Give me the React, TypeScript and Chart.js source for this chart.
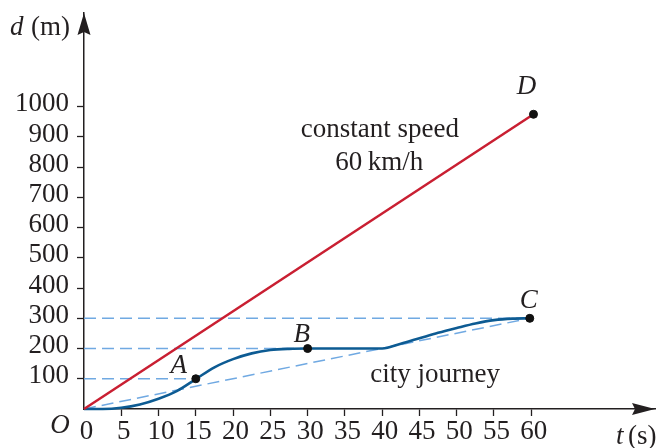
import React, { useEffect, useRef } from "react";
import { Chart, registerables } from "chart.js";

Chart.register(...registerables);

// ---- data ----
const xTickValues = [0, 5, 10, 15, 20, 25, 30, 35, 40, 45, 50, 55, 60];
const yTickValues = [100, 200, 300, 400, 500, 600, 700, 800, 900, 1000];

const cityT = [0, 2.5, 5, 7.5, 10, 12.5, 15, 17.5, 20, 22.5, 25, 27.5, 30, 35, 40, 42.5, 45, 47.5, 50, 52.5, 55, 57.5, 59.8];
const cityD = [0, 0, 4, 15, 34, 60, 99, 138, 165, 184, 195, 199, 200, 200, 200, 216, 234, 252, 268, 283, 294, 299, 300];

const speedT = [0, 60.3];
const speedD = [0, 975];

const pointNames = ["A", "B", "C", "D"];
const pointT = [15, 30, 59.8, 60.3];
const pointD = [100, 200, 300, 975];

const guideLevels = [100, 200, 300];
const guideEnds = [15, 30, 59.8];

const averageT = [0, 59.8];
const averageD = [0, 300];

const X_MAX = 76.6;
const Y_MAX = 1310;

const INK = "#231f20";
const RED = "#c91f32";
const BLUE = "#0d5b93";
const LIGHT = "#70a9e2";
const SERIF = "'Liberation Serif', 'Times New Roman', serif";
const FS = 27;

const pointLabelOffsets: Record<string, [number, number]> = {
  A: [-17, -6],
  B: [-6, -7],
  C: [-1, -10],
  D: [-7, -20],
};

const annotationPlugin = {
  id: "annotations",
  afterDraw(chart: any) {
    const ctx = chart.ctx;
    const xs = chart.scales.x;
    const ys = chart.scales.y;
    const ca = chart.chartArea;
    ctx.save();
    // arrows
    ctx.fillStyle = INK;
    const ax = ca.left;
    const ay = ca.top;
    ctx.beginPath();
    ctx.moveTo(ax, ay);
    ctx.lineTo(ax + 6.5, ay + 22);
    ctx.lineTo(ax, ay + 19);
    ctx.lineTo(ax - 6.5, ay + 22);
    ctx.closePath();
    ctx.fill();
    const bx = ca.right;
    const by = ca.bottom;
    ctx.beginPath();
    ctx.moveTo(bx, by);
    ctx.lineTo(bx - 23, by - 6);
    ctx.lineTo(bx - 20, by);
    ctx.lineTo(bx - 23, by + 6);
    ctx.closePath();
    ctx.fill();

    // axis titles
    ctx.fillStyle = INK;
    ctx.textBaseline = "alphabetic";
    ctx.textAlign = "left";
    ctx.font = `italic ${FS}px ${SERIF}`;
    ctx.fillText("d", 10, 35);
    ctx.font = `${FS}px ${SERIF}`;
    ctx.fillText("(m)", 31, 35);
    ctx.font = `italic ${FS}px ${SERIF}`;
    ctx.fillText("t", 616, 444);
    ctx.font = `${FS}px ${SERIF}`;
    ctx.fillText("(s)", 628, 444);
    ctx.font = `italic ${FS}px ${SERIF}`;
    ctx.textAlign = "center";
    ctx.fillText("O", 60, 433);

    // point letters
    pointNames.forEach((n, i) => {
      const px = xs.getPixelForValue(pointT[i]);
      const py = ys.getPixelForValue(pointD[i]);
      const off = pointLabelOffsets[n];
      ctx.font = `italic ${FS}px ${SERIF}`;
      ctx.textAlign = "center";
      ctx.fillText(n, px + off[0], py + off[1]);
    });

    // text notes
    ctx.font = `${FS}px ${SERIF}`;
    ctx.textAlign = "center";
    ctx.fillText("constant speed", xs.getPixelForValue(39.7), ys.getPixelForValue(900));
    ctx.fillText("60\u2009km/h", xs.getPixelForValue(39.6), ys.getPixelForValue(790));
    ctx.fillText("city journey", xs.getPixelForValue(47.1), ys.getPixelForValue(89));
    ctx.restore();
  },
};

export default function App() {
  const ref = useRef<HTMLCanvasElement | null>(null);

  useEffect(() => {
    if (!ref.current) return;
    const toXY = (ts: number[], ds: number[]) => ts.map((t, i) => ({ x: t, y: ds[i] }));

    const dashed = {
      borderColor: LIGHT,
      borderWidth: 1.5,
      borderDash: [12, 6],
      pointRadius: 0,
      fill: false,
      clip: false as any,
    };

    const guideSets = guideLevels.map((lvl, i) => ({
      type: "line" as const,
      data: [
        { x: 0, y: lvl },
        { x: guideEnds[i], y: lvl },
      ],
      ...dashed,
    }));

    const chart = new Chart(ref.current, {
      type: "line",
      data: {
        datasets: [
          {
            type: "scatter",
            data: toXY(pointT, pointD),
            backgroundColor: "#111",
            borderColor: "#111",
            pointRadius: 4,
            showLine: false,
            clip: false as any,
          } as any,
          {
            data: toXY(speedT, speedD),
            borderColor: RED,
            borderWidth: 2.5,
            pointRadius: 0,
            fill: false,
            clip: false as any,
          },
          {
            data: toXY(cityT, cityD),
            borderColor: BLUE,
            borderWidth: 2.6,
            pointRadius: 0,
            fill: false,
            cubicInterpolationMode: "monotone",
            clip: false as any,
          },
          {
            data: toXY(averageT, averageD),
            ...dashed,
          },
          ...guideSets,
        ],
      },
      options: {
        animation: false,
        responsive: false,
        devicePixelRatio: 1,
        layout: { padding: { left: 0, top: 13, right: 7, bottom: 0 } },
        plugins: { legend: { display: false }, tooltip: { enabled: false } },
        scales: {
          x: {
            type: "linear",
            min: 0,
            max: X_MAX,
            afterBuildTicks: (scale: any) => {
              scale.ticks = xTickValues.map((v) => ({ value: v }));
            },
            afterFit: (scale: any) => {
              scale.height = 39;
              scale.paddingLeft = 0;
              scale.paddingRight = 0;
            },
            ticks: {
              font: { family: SERIF, size: FS },
              color: INK,
              padding: 0,
              labelOffset: 2.5,
              maxRotation: 0,
              autoSkip: false,
              callback: (v: any) => String(v),
            },
            grid: {
              display: true,
              drawOnChartArea: false,
              drawTicks: true,
              tickLength: 7,
              tickWidth: 1.3,
              tickColor: (c: any) => (c.tick && c.tick.value === 0 ? "rgba(0,0,0,0)" : INK),
            },
            border: { display: true, color: INK, width: 1.5 },
          },
          y: {
            type: "linear",
            min: 0,
            max: Y_MAX,
            afterBuildTicks: (scale: any) => {
              scale.ticks = yTickValues.map((v) => ({ value: v }));
            },
            afterFit: (scale: any) => {
              scale.width = 84;
              scale.paddingTop = 0;
              scale.paddingBottom = 0;
            },
            ticks: {
              font: { family: SERIF, size: FS },
              color: INK,
              padding: 8,
              labelOffset: -2.5,
              autoSkip: false,
              callback: (v: any) => String(v),
            },
            grid: {
              display: true,
              drawOnChartArea: false,
              drawTicks: true,
              tickLength: 7,
              tickWidth: 1.3,
              tickColor: INK,
            },
            border: { display: true, color: INK, width: 1.5 },
          },
        },
      } as any,
      plugins: [annotationPlugin],
    });
    return () => chart.destroy();
  }, []);

  return (
    <div style={{ position: "fixed", left: 0, top: 0, width: 662, height: 448, background: "#fff" }}>
      <canvas ref={ref} width={662} height={448} style={{ display: "block", width: 662, height: 448 }} />
    </div>
  );
}
